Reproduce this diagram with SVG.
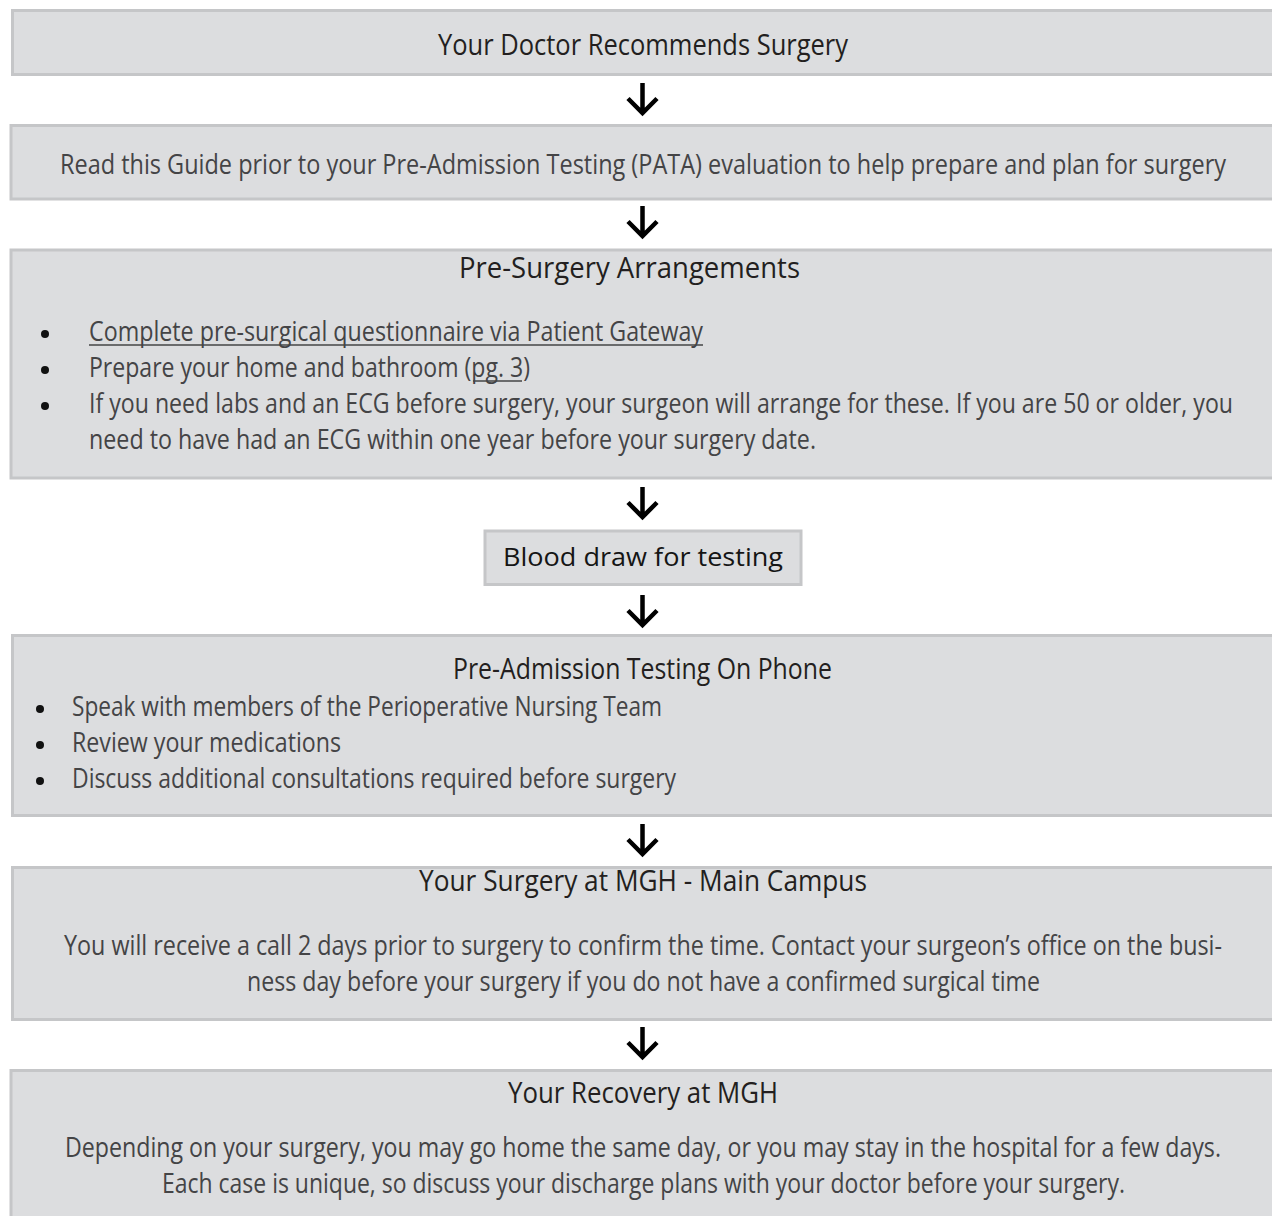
<svg xmlns="http://www.w3.org/2000/svg" width="1272" height="1216" viewBox="0 0 1272 1216">
<style>
.box{fill:#dcdddf;stroke:#c5c6c8;stroke-width:3}
text{font-family:"Open Sans","Noto Sans",sans-serif}
.h{font-size:29px;fill:#231f20;text-anchor:middle}
.b{font-size:27px;fill:#444446}
.bl{font-size:25px;fill:#151515;text-anchor:middle}
.ul{stroke:#444446;stroke-width:1.5}
.dot{fill:#111}
.arr{fill:none;stroke:#000;stroke-width:4.5;stroke-linejoin:miter;stroke-linecap:butt}
</style>
<rect width="1272" height="1216" fill="#fff"/>
<g id="connectors">
<path class="arr" d="M642.5 83 V113 M628 98.5 L642.5 113 L657 98.5"/>
<path class="arr" d="M642.5 206 V236 M628 221.5 L642.5 236 L657 221.5"/>
<path class="arr" d="M642.5 487 V517 M628 502.5 L642.5 517 L657 502.5"/>
<path class="arr" d="M642.5 595 V625 M628 610.5 L642.5 625 L657 610.5"/>
<path class="arr" d="M642.5 824 V854 M628 839.5 L642.5 854 L657 839.5"/>
<path class="arr" d="M642.5 1027 V1057 M628 1042.5 L642.5 1057 L657 1042.5"/>
</g>
<g id="n1">
<rect class="box" x="12.5" y="10.5" width="1275" height="64"/>
<text class="h" x="643" y="55" textLength="410" lengthAdjust="spacingAndGlyphs">Your Doctor Recommends Surgery</text>
</g>
<g id="n2">
<rect class="box" x="11" y="125.5" width="1275" height="73.5"/>
<text class="b" x="60" y="174" textLength="1166" lengthAdjust="spacingAndGlyphs">Read this Guide prior to your Pre-Admission Testing (PATA) evaluation to help prepare and plan for surgery</text>
</g>
<g id="n3">
<rect class="box" x="11" y="250" width="1275" height="228"/>
<text class="h" x="629.5" y="278" textLength="341" lengthAdjust="spacingAndGlyphs">Pre-Surgery Arrangements</text>
<circle class="dot" cx="45" cy="334" r="4"/>
<circle class="dot" cx="45" cy="370" r="4"/>
<circle class="dot" cx="45" cy="406" r="4"/>
<text class="b" x="89" y="341" textLength="614" lengthAdjust="spacingAndGlyphs">Complete pre-surgical questionnaire via Patient Gateway</text>
<line class="ul" x1="89" y1="345" x2="703" y2="345"/>
<text class="b" x="89" y="377" textLength="441" lengthAdjust="spacingAndGlyphs">Prepare your home and bathroom (pg. 3)</text>
<line class="ul" x1="473" y1="381" x2="522" y2="381"/>
<text class="b" x="89" y="413" textLength="1144" lengthAdjust="spacingAndGlyphs">If you need labs and an ECG before surgery, your surgeon will arrange for these. If you are 50 or older, you</text>
<text class="b" x="89" y="449" textLength="727" lengthAdjust="spacingAndGlyphs">need to have had an ECG within one year before your surgery date.</text>
</g>
<g id="n4">
<rect class="box" x="485" y="531" width="316" height="53.5"/>
<text class="bl" x="643" y="566" textLength="280" lengthAdjust="spacingAndGlyphs">Blood draw for testing</text>
</g>
<g id="n5">
<rect class="box" x="12.5" y="635.5" width="1275" height="180"/>
<text class="h" x="642.5" y="679" textLength="379" lengthAdjust="spacingAndGlyphs">Pre-Admission Testing On Phone</text>
<circle class="dot" cx="40" cy="709" r="4"/>
<circle class="dot" cx="40" cy="745" r="4"/>
<circle class="dot" cx="40" cy="781" r="4"/>
<text class="b" x="72" y="716" textLength="590" lengthAdjust="spacingAndGlyphs">Speak with members of the Perioperative Nursing Team</text>
<text class="b" x="72" y="752" textLength="269" lengthAdjust="spacingAndGlyphs">Review your medications</text>
<text class="b" x="72" y="788" textLength="604" lengthAdjust="spacingAndGlyphs">Discuss additional consultations required before surgery</text>
</g>
<g id="n6">
<rect class="box" x="12.5" y="867.5" width="1275" height="152"/>
<text class="h" x="643" y="891" textLength="448" lengthAdjust="spacingAndGlyphs">Your Surgery at MGH - Main Campus</text>
<text class="b" x="64" y="955" textLength="1158" lengthAdjust="spacingAndGlyphs">You will receive a call 2 days prior to surgery to confirm the time. Contact your surgeon’s office on the busi-</text>
<text class="b" x="247" y="991" textLength="793" lengthAdjust="spacingAndGlyphs">ness day before your surgery if you do not have a confirmed surgical time</text>
</g>
<g id="n7">
<rect class="box" x="11" y="1070.5" width="1275" height="200"/>
<text class="h" x="643" y="1103" textLength="270" lengthAdjust="spacingAndGlyphs">Your Recovery at MGH</text>
<text class="b" x="65" y="1157" textLength="1156" lengthAdjust="spacingAndGlyphs">Depending on your surgery, you may go home the same day, or you may stay in the hospital for a few days.</text>
<text class="b" x="162" y="1193" textLength="963" lengthAdjust="spacingAndGlyphs">Each case is unique, so discuss your discharge plans with your doctor before your surgery.</text>
</g>
</svg>
